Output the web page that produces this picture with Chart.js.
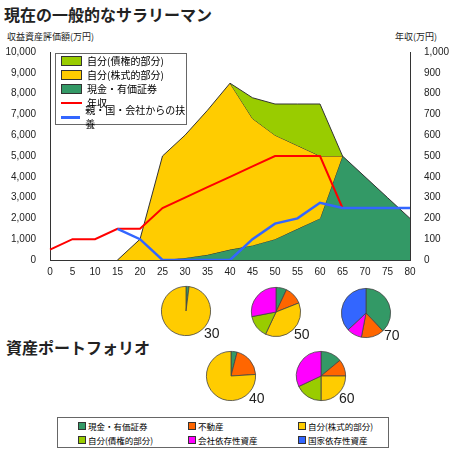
<!DOCTYPE html>
<html><head><meta charset="utf-8">
<script src="https://cdn.jsdelivr.net/npm/chart.js@4"></script>
<style>
body{margin:0;width:450px;height:450px;background:#fff;font-family:"Noto Sans CJK JP",sans-serif;position:relative;overflow:hidden}
.abs{position:absolute}
.t{font-weight:bold;font-size:16px;color:#222}
.s{font-size:9px;color:#222}
.lg{position:absolute;left:55px;top:53px;width:130px;height:70px;border:1px solid #666;background:#fff;font-size:10px;line-height:14px}
.lg div{height:14px;display:flex;align-items:center}
.sw{display:inline-block;width:19px;height:8px;border:1px solid #333;margin:0 5px 0 5px}
.ln{display:inline-block;width:21px;height:2px;margin:0 5px 0 5px}
.bl{position:absolute;left:57px;top:417px;width:330px;height:29px;border:1px solid #666;font-size:8.5px}
.bl span{position:absolute;display:flex;align-items:center;white-space:nowrap}
.bl i{display:inline-block;width:6px;height:6px;border:1px solid #333;margin-right:2px}
.pl{position:absolute;font-size:14px;color:#222;font-family:"Liberation Sans",sans-serif}
</style></head><body>
<div class="abs t" style="left:4px;top:2px">現在の一般的なサラリーマン</div>
<div class="abs s" style="left:7px;top:30px">収益資産評価額(万円)</div>
<div class="abs s" style="left:395px;top:30px">年収(万円)</div>
<canvas id="main" class="abs" style="left:0;top:40px;width:450px;height:250px"></canvas>
<div class="lg">
<div><span class="sw" style="background:#99cc00"></span>自分(債権的部分)</div>
<div><span class="sw" style="background:#ffcc00"></span>自分(株式的部分)</div>
<div><span class="sw" style="background:#339966"></span>現金・有価証券</div>
<div><span class="ln" style="background:#ff0000"></span>年収</div>
<div><span class="ln" style="background:#3366ff;height:3px"></span>親・国・会社からの扶養</div>
</div>
<div class="abs t" style="left:6px;top:335px">資産ポートフォリオ</div>
<div id="pies"></div>
<div class="bl">
<span style="left:20px;top:2px"><i style="background:#339966"></i>現金・有価証券</span>
<span style="left:130px;top:2px"><i style="background:#ff6600"></i>不動産</span>
<span style="left:240px;top:2px"><i style="background:#ffcc00"></i>自分(株式的部分)</span>
<span style="left:20px;top:16px"><i style="background:#99cc00"></i>自分(債権的部分)</span>
<span style="left:130px;top:16px"><i style="background:#ff00ff"></i>会社依存性資産</span>
<span style="left:240px;top:16px"><i style="background:#3366ff"></i>国家依存性資産</span>
</div>
<script>
const ages=[0,5,10,15,20,25,30,35,40,45,50,55,60,65,70,75,80];
const cash=[null,null,null,0,0,0,100,250,500,700,1000,1500,2000,5000,4000,3000,2000];
const stockTop=[null,null,null,0,1000,5000,6000,7200,8500,6800,6000,5500,5000,5000,null,null,null];
const bondTop=[null,null,null,null,null,null,null,null,8500,7800,7500,7500,7500,5000,null,null,null];
const income=[50,100,100,150,150,250,300,350,400,450,500,500,500,250,250,250,250];
const support=[null,null,null,150,100,0,0,0,0,100,175,200,275,250,250,250,250];
const leftTicks=[0,1000,2000,3000,4000,5000,6000,7000,8000,9000,10000];
const pieLabels=['現金・有価証券','不動産','自分(株式的部分)','自分(債権的部分)','会社依存性資産','国家依存性資産'];
const pieColors=['#339966','#ff6600','#ffcc00','#99cc00','#ff00ff','#3366ff'];
const pieAges=['30','40','50','60','70'];
const pieData=[[2,0,98,0,0,0],[4,20,76,0,0,0],[7,12,38,15,28,0],[14,11,25,18,32,0],[38,15,0,0,10,37]];
const piePos=[[160,285],[205,350],[250,286],[295,350],[340,287]];

new Chart(document.getElementById('main'),{type:'line',
data:{labels:ages,datasets:[
{data:cash,yAxisID:'y',backgroundColor:'#339966',borderColor:'#333',borderWidth:1,fill:'origin',pointRadius:0,tension:0,order:5},
{data:stockTop,yAxisID:'y',backgroundColor:'#ffcc00',borderColor:'#333',borderWidth:1,fill:'-1',pointRadius:0,order:4},
{data:bondTop,yAxisID:'y',backgroundColor:'#99cc00',borderColor:'#333',borderWidth:1,fill:'-1',pointRadius:0,order:3},
{data:income,yAxisID:'y1',borderColor:'#ff0000',borderWidth:2,fill:false,pointRadius:0,order:2},
{data:support,yAxisID:'y1',borderColor:'#3366ff',borderWidth:2.5,fill:false,pointRadius:0,order:1}]},
options:{animation:false,responsive:false,maintainAspectRatio:false,
layout:{padding:{top:10}},
plugins:{legend:{display:false},tooltip:{enabled:false}},
scales:{
x:{type:'category',offset:false,grid:{display:false,drawTicks:false},border:{color:'#333'},ticks:{color:'#222',font:{size:10,family:'Liberation Sans'},padding:6,maxRotation:0},afterFit:s=>{s.height=30}},
y:{position:'left',min:0,max:10000,grid:{display:false},border:{color:'#333'},afterBuildTicks:s=>{s.ticks=leftTicks.map(v=>({value:v}))},ticks:{color:'#222',font:{size:10,family:'Liberation Sans'},padding:6},afterFit:s=>{s.width=50}},
y1:{position:'right',min:0,max:1000,grid:{display:false},border:{color:'#333'},ticks:{stepSize:100,color:'#222',font:{size:10,family:'Liberation Sans'},padding:6},afterFit:s=>{s.width=40}}}}});

const pc=document.getElementById('pies');
pieData.forEach((d,i)=>{
 const c=document.createElement('canvas');c.className='abs';
 c.style.left=piePos[i][0]+'px';c.style.top=piePos[i][1]+'px';c.style.width='52px';c.style.height='52px';
 c.width=52;c.height=52;pc.appendChild(c);
 const l=document.createElement('div');l.className='pl';l.textContent=pieAges[i];
 l.style.left=(piePos[i][0]+44)+'px';l.style.top=(piePos[i][1]+40)+'px';pc.appendChild(l);
 new Chart(c,{type:'pie',data:{labels:pieLabels,datasets:[{data:d,backgroundColor:pieColors,borderColor:'#444',borderWidth:0.8}]},
 options:{animation:false,responsive:false,plugins:{legend:{display:false},tooltip:{enabled:false}},layout:{padding:1}}});
});
</script></body></html>
